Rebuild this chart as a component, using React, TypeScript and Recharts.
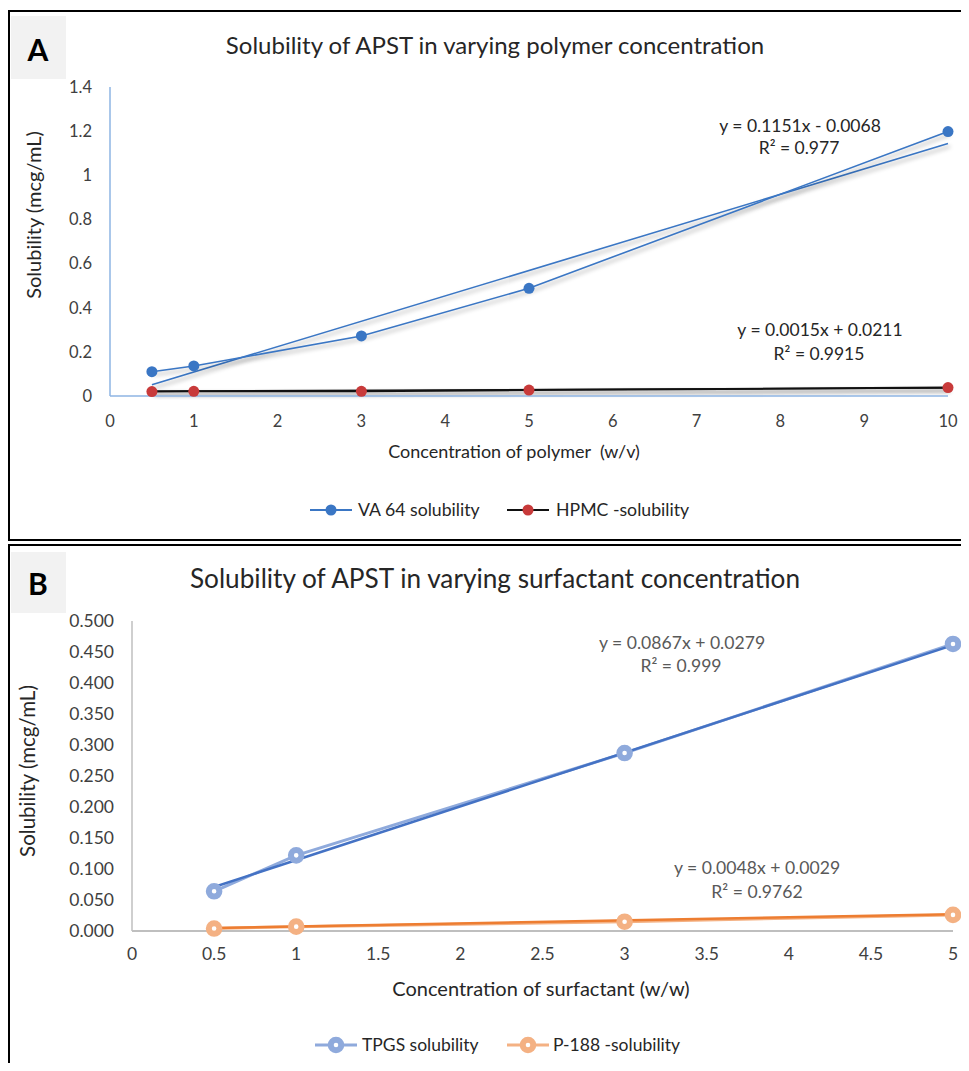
import React from 'react';
import { LineChart, Line, XAxis, YAxis } from 'recharts';

// ---------- Panel A data (polymer) ----------
const polymerConc = [0.5, 1, 3, 5, 10];
const va64Solubility = [0.11, 0.136, 0.272, 0.488, 1.198];
const hpmcSolubility = [0.02, 0.021, 0.021, 0.027, 0.038];
const va64TrendX = [0.5, 10];
const va64TrendY = [0.051, 1.144];
const hpmcTrendX = [0.5, 10];
const hpmcTrendY = [0.022, 0.036];
const xTicksA = [0, 1, 2, 3, 4, 5, 6, 7, 8, 9, 10];
const yTicksA = [0, 0.2, 0.4, 0.6, 0.8, 1, 1.2, 1.4];

// ---------- Panel B data (surfactant) ----------
const surfConc = [0.5, 1, 3, 5];
const tpgsSolubility = [0.064, 0.122, 0.287, 0.463];
const p188Solubility = [0.004, 0.007, 0.015, 0.026];
const tpgsTrendX = [0.5, 5];
const tpgsTrendY = [0.071, 0.461];
const p188TrendX = [0.5, 5];
const p188TrendY = [0.005, 0.027];
const xTicksB = [0, 0.5, 1, 1.5, 2, 2.5, 3, 3.5, 4, 4.5, 5];
const yTicksB = [0, 0.05, 0.1, 0.15, 0.2, 0.25, 0.3, 0.35, 0.4, 0.45, 0.5];

const toPoints = (xs: number[], ys: number[]) => xs.map((x, i) => ({ x, y: ys[i] }));

const FONT = 'Lato, "Open Sans", sans-serif';
const OX = 8; // container page offset
const OY = 8;

const CText = ({ cx, cy, size, color, children, weight, rotate }: any) => (
  <div
    style={{
      position: 'absolute',
      left: cx - OX,
      top: cy - OY,
      transform: `translate(-50%, -50%)${rotate ? ` rotate(${rotate}deg)` : ''}`,
      whiteSpace: 'nowrap',
      fontSize: size,
      color,
      fontWeight: weight || 400,
      lineHeight: 1,
    }}
  >
    {children}
  </div>
);

const LegendItem = ({ x, textX, cy, line, marker, ring, label, size }: any) => (
  <>
    <svg
      style={{ position: 'absolute', left: x - OX, top: cy - OY - 10 }}
      width={44}
      height={20}
    >
      <line x1={0} y1={10} x2={42} y2={10} stroke={line} strokeWidth={ring ? 3 : 2} />
      {ring ? (
        <circle cx={21} cy={10} r={5.3} fill="#fff" stroke={marker} strokeWidth={6} />
      ) : (
        <circle cx={21} cy={10} r={5.5} fill={marker} />
      )}
    </svg>
    <div
      style={{
        position: 'absolute',
        left: textX - OX,
        top: cy - OY,
        transform: 'translateY(-50%)',
        fontSize: size,
        color: '#262626',
        whiteSpace: 'nowrap',
        lineHeight: 1,
      }}
    >
      {label}
    </div>
  </>
);

const tickStyle = (size: number) => ({ fontSize: size, fill: '#404040', fontFamily: FONT });

export default function App() {
  const va64 = toPoints(polymerConc, va64Solubility);
  const hpmc = toPoints(polymerConc, hpmcSolubility);
  const va64Trend = toPoints(va64TrendX, va64TrendY);
  const hpmcTrend = toPoints(hpmcTrendX, hpmcTrendY);
  const tpgs = toPoints(surfConc, tpgsSolubility);
  const p188 = toPoints(surfConc, p188Solubility);
  const tpgsTrend = toPoints(tpgsTrendX, tpgsTrendY);
  const p188Trend = toPoints(p188TrendX, p188TrendY);

  const blueA = '#3A76C4';
  const redA = '#C83A3A';
  const tpgsLight = '#8FAADC';
  const tpgsDark = '#4472C4';
  const p188Light = '#F4B183';
  const p188Dark = '#ED7D31';

  return (
    <div
      style={{
        position: 'relative',
        width: 961,
        height: 1055,
        overflow: 'hidden',
        background: '#fff',
        fontFamily: FONT,
      }}
    >
      <style>{`.shadowA { filter: drop-shadow(2px 3px 2px rgba(0,0,0,0.35)); }`}</style>

      {/* Panel borders */}
      <div
        style={{
          position: 'absolute', left: 0, top: 2, width: 980, height: 531,
          border: '2px solid #000', boxSizing: 'border-box',
        }}
      />
      <div
        style={{
          position: 'absolute', left: 0, top: 536, width: 980, height: 600,
          border: '2px solid #000', boxSizing: 'border-box',
        }}
      />

      {/* Letter boxes */}
      <div style={{ position: 'absolute', left: 11 - OX, top: 16 - OY, width: 55, height: 63, background: '#F2F2F2' }} />
      <CText cx={38} cy={49} size={30} color="#000" weight={700}>A</CText>
      <div style={{ position: 'absolute', left: 11 - OX, top: 552 - OY, width: 55, height: 61, background: '#F2F2F2' }} />
      <CText cx={38} cy={583} size={30} color="#000" weight={700}>B</CText>

      {/* Chart A */}
      <div style={{ position: 'absolute', left: 0, top: 2 }}>
        <LineChart width={961} height={531} margin={{ top: 77, right: 21, bottom: 115, left: 0 }}>
          <XAxis
            dataKey="x"
            type="number"
            domain={[0, 10]}
            ticks={xTicksA}
            height={30}
            tickLine={false}
            axisLine={{ stroke: '#8EB4E3', strokeWidth: 1.5 }}
            tick={tickStyle(16.5)}
            tickMargin={13}
            interval={0}
          />
          <YAxis
            dataKey="y"
            type="number"
            domain={[0, 1.4]}
            ticks={yTicksA}
            width={102}
            tickLine={false}
            axisLine={{ stroke: '#8EB4E3', strokeWidth: 1.5 }}
            tick={tickStyle(16.5)}
            tickMargin={12}
            interval={0}
          />
          <Line className="shadowA" data={hpmcTrend} dataKey="y" stroke="#111" strokeWidth={1.5} dot={false} isAnimationActive={false} legendType="none" />
          <Line className="shadowA" data={hpmc} dataKey="y" name="HPMC -solubility" stroke="#111" strokeWidth={2} dot={{ r: 5.5, fill: redA, stroke: redA, strokeWidth: 0 }} activeDot={false} isAnimationActive={false} />
          <Line className="shadowA" data={va64Trend} dataKey="y" stroke={blueA} strokeWidth={1.6} dot={false} isAnimationActive={false} legendType="none" />
          <Line className="shadowA" data={va64} dataKey="y" name="VA 64 solubility" stroke={blueA} strokeWidth={1.6} dot={{ r: 5.5, fill: blueA, stroke: blueA, strokeWidth: 0 }} activeDot={false} isAnimationActive={false} />
        </LineChart>
      </div>

      {/* Chart B */}
      <div style={{ position: 'absolute', left: 0, top: 536 }}>
        <LineChart width={961} height={519} margin={{ top: 77, right: 16, bottom: 102, left: 0 }}>
          <XAxis
            dataKey="x"
            type="number"
            domain={[0, 5]}
            ticks={xTicksB}
            height={30}
            tickLine={false}
            axisLine={{ stroke: '#BFBFBF', strokeWidth: 2 }}
            tick={tickStyle(17.5)}
            tickMargin={11}
            interval={0}
          />
          <YAxis
            dataKey="y"
            type="number"
            domain={[0, 0.5]}
            ticks={yTicksB}
            width={124}
            tickLine={false}
            axisLine={{ stroke: '#BFBFBF', strokeWidth: 1.5 }}
            tick={tickStyle(17.5)}
            tickMargin={12}
            interval={0}
            tickFormatter={(v: number) => v.toFixed(3)}
          />
          <Line data={tpgs} dataKey="y" stroke={tpgsLight} strokeWidth={3} dot={false} isAnimationActive={false} legendType="none" />
          <Line data={p188} dataKey="y" stroke={p188Light} strokeWidth={3} dot={false} isAnimationActive={false} legendType="none" />
          <Line data={tpgsTrend} dataKey="y" stroke={tpgsDark} strokeWidth={2.5} dot={false} isAnimationActive={false} legendType="none" />
          <Line data={p188Trend} dataKey="y" stroke={p188Dark} strokeWidth={2.5} dot={false} isAnimationActive={false} legendType="none" />
          <Line data={tpgs} dataKey="y" name="TPGS solubility" stroke="none" strokeWidth={0} dot={{ r: 5.3, fill: '#fff', stroke: tpgsLight, strokeWidth: 6 }} activeDot={false} isAnimationActive={false} />
          <Line data={p188} dataKey="y" name="P-188 -solubility" stroke="none" strokeWidth={0} dot={{ r: 5.3, fill: '#fff', stroke: p188Light, strokeWidth: 6 }} activeDot={false} isAnimationActive={false} />
        </LineChart>
      </div>

      {/* Panel A texts */}
      <CText cx={495} cy={45} size={24} color="#262626">Solubility of APST in varying polymer concentration</CText>
      <CText cx={514} cy={451} size={18} color="#262626">{'Concentration of polymer\u00A0\u00A0(w/v)'}</CText>
      <CText cx={33} cy={215} size={20} color="#262626" rotate={-90}>Solubility (mcg/mL)</CText>
      <CText cx={800} cy={126} size={17.5} color="#262626">y = 0.1151x - 0.0068</CText>
      <CText cx={799} cy={148} size={17.5} color="#262626">R² = 0.977</CText>
      <CText cx={820} cy={330} size={17.5} color="#262626">y = 0.0015x + 0.0211</CText>
      <CText cx={819} cy={354} size={17.5} color="#262626">R² = 0.9915</CText>
      <LegendItem x={310} textX={358} cy={510} line={blueA} marker={blueA} label="VA 64 solubility" size={17.7} />
      <LegendItem x={507} textX={556} cy={510} line="#111" marker={redA} label="HPMC -solubility" size={17.7} />

      {/* Panel B texts */}
      <CText cx={495} cy={578} size={26.2} color="#262626">Solubility of APST in varying surfactant concentration</CText>
      <CText cx={541} cy={988} size={20} color="#262626">Concentration of surfactant (w/w)</CText>
      <CText cx={27} cy={771} size={20.5} color="#262626" rotate={-90}>Solubility (mcg/mL)</CText>
      <CText cx={682} cy={643} size={17.6} color="#595959">y = 0.0867x + 0.0279</CText>
      <CText cx={681} cy={666} size={17.6} color="#595959">R² = 0.999</CText>
      <CText cx={757} cy={868} size={17.6} color="#595959">y = 0.0048x + 0.0029</CText>
      <CText cx={757} cy={892} size={17.6} color="#595959">R² = 0.9762</CText>
      <LegendItem x={315} textX={362} cy={1045} line={tpgsLight} marker={tpgsLight} ring label="TPGS solubility" size={17.5} />
      <LegendItem x={507} textX={553} cy={1045} line={p188Light} marker={p188Light} ring label="P-188 -solubility" size={17.5} />
    </div>
  );
}
